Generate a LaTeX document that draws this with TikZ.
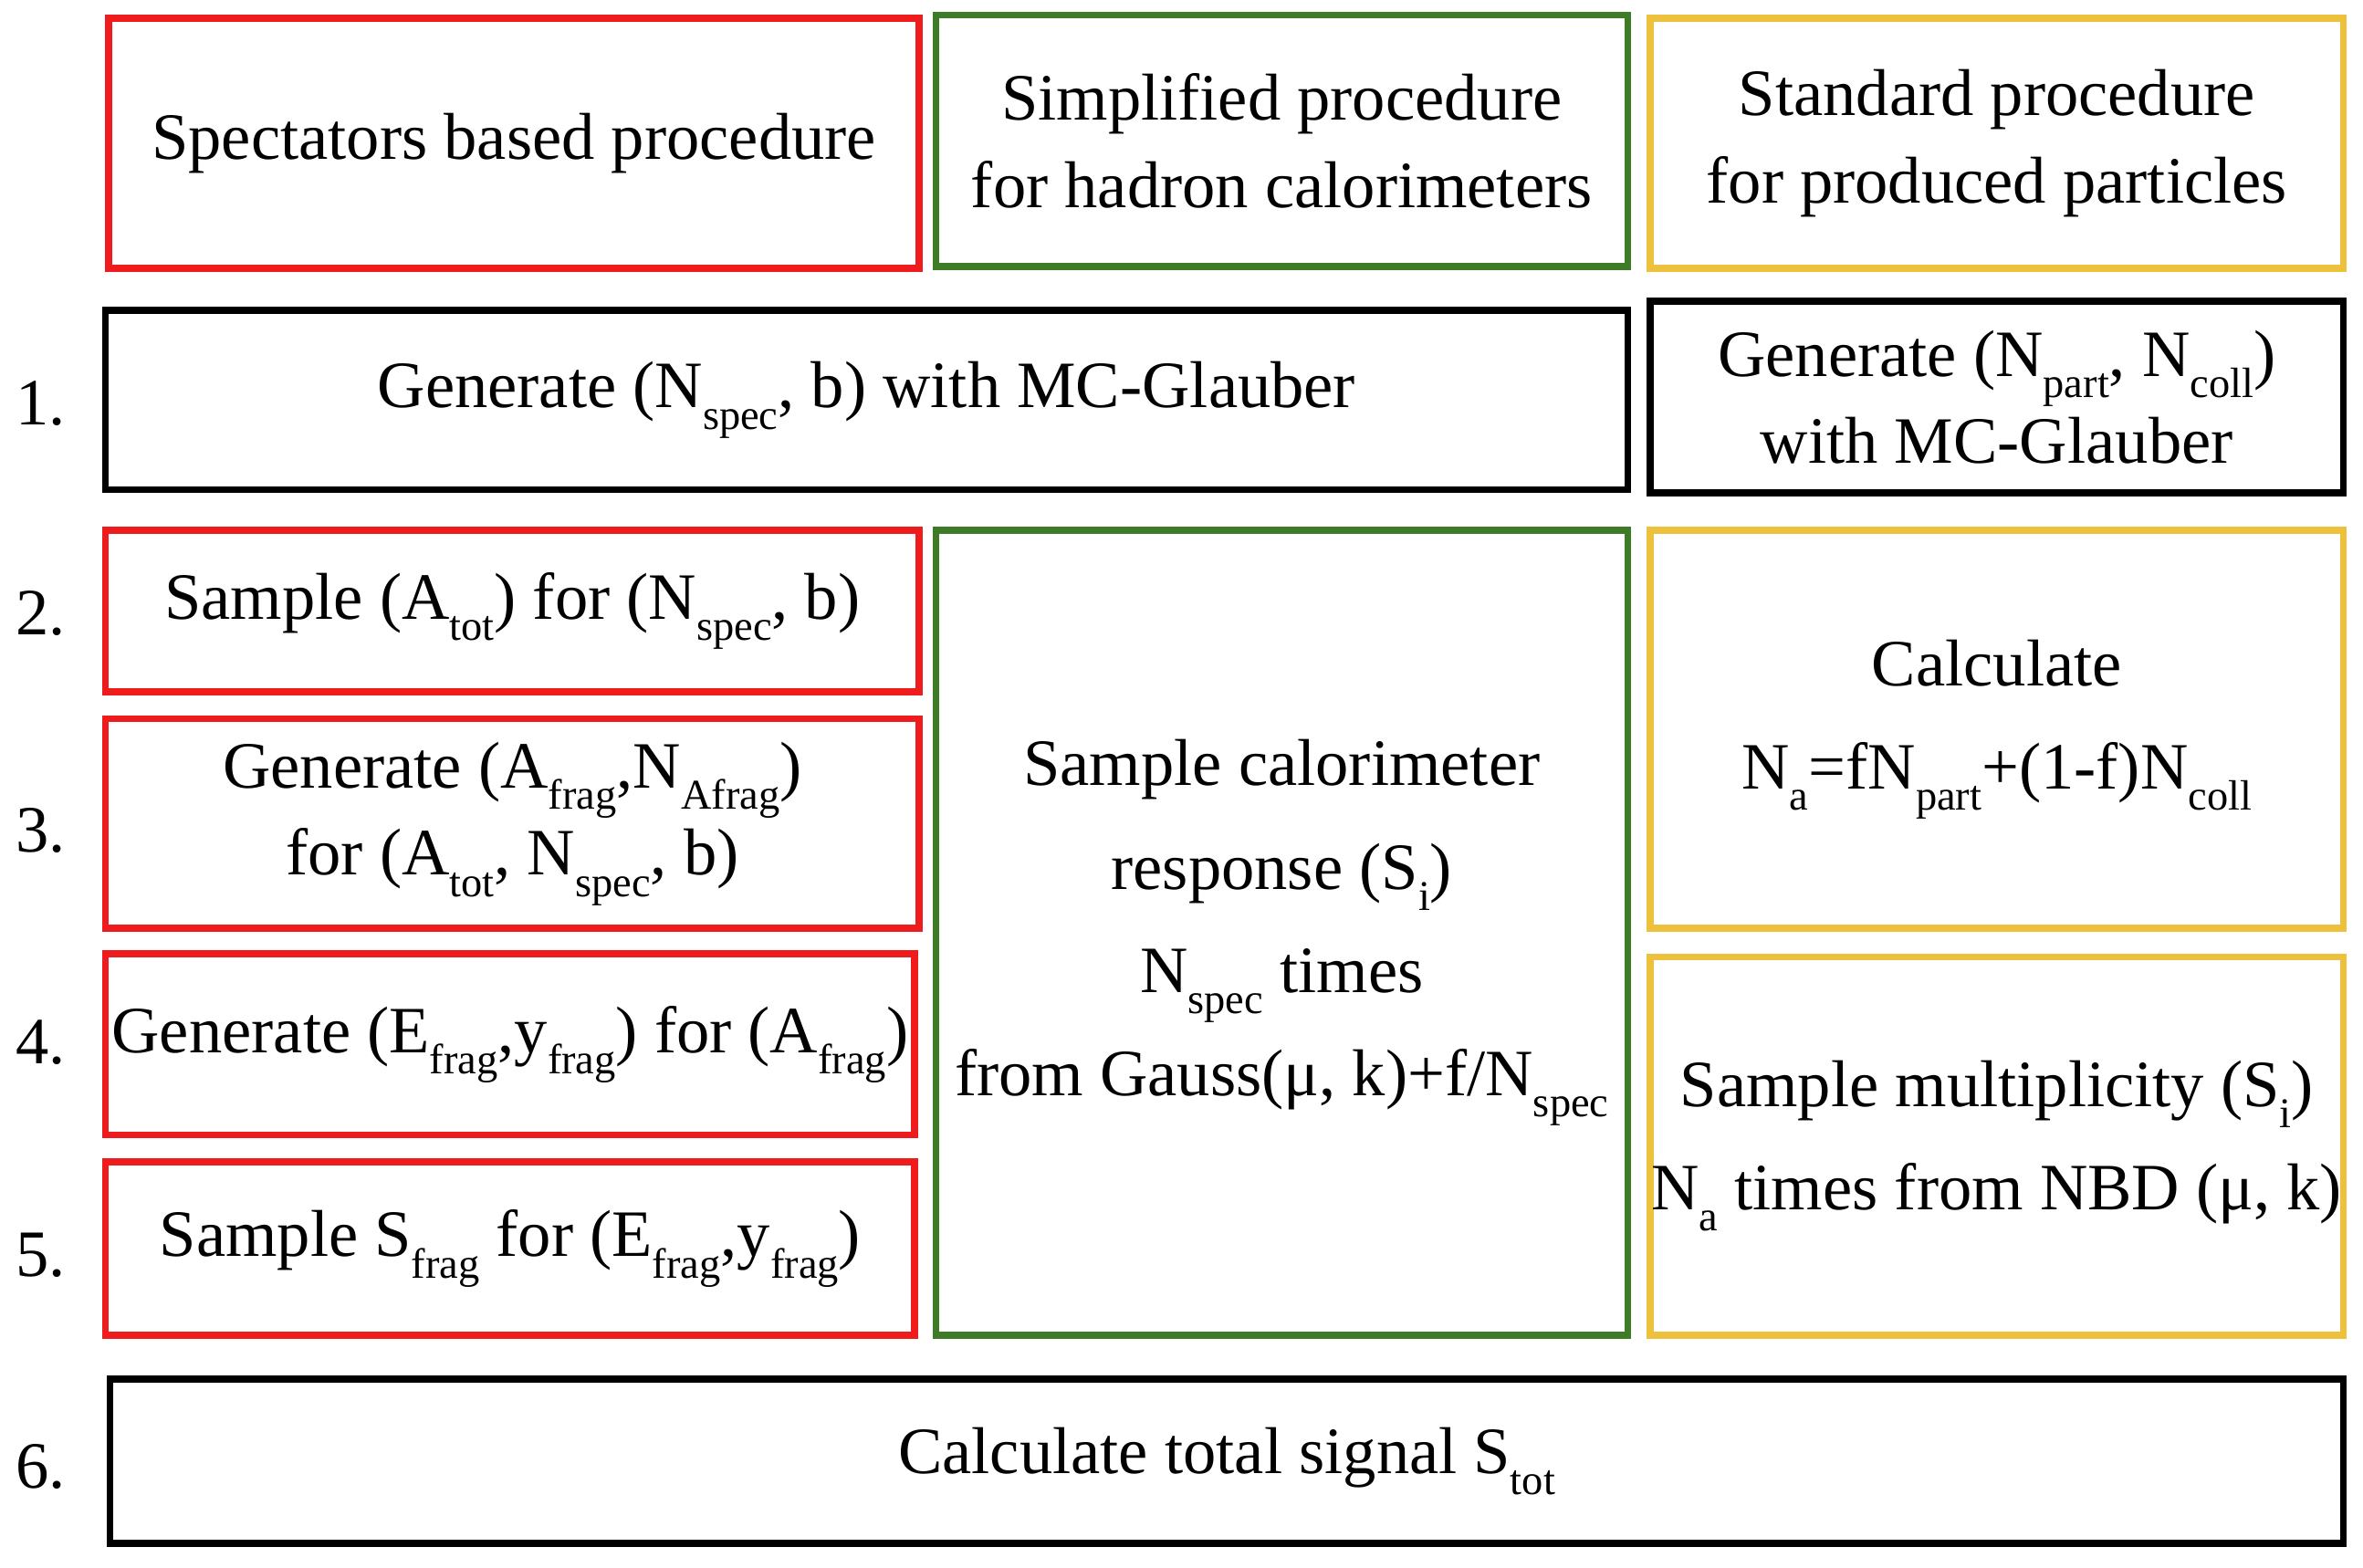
\documentclass[tikz,border=0pt]{standalone}
\usepackage{fontspec}
\setmainfont{Liberation Serif}
\usetikzlibrary{positioning}
\definecolor{procred}{HTML}{EE1C1C}
\definecolor{procgreen}{HTML}{3E7B27}
\definecolor{procyellow}{HTML}{EDC13B}
\newcommand{\lo}[1]{\raisebox{-0.7ex}{\footnotesize #1}}

\begin{document}
\begin{tikzpicture}[
    box/.style={draw, line width=1.3pt, align=center, inner sep=0pt,
        font=\fontsize{12.5}{16.5}\selectfont},
    redbox/.style={box, draw=procred},
    greenbox/.style={box, draw=procgreen},
    yellowbox/.style={box, draw=procyellow},
    stepnum/.style={font=\fontsize{12.5}{15}\selectfont}
]
\useasboundingbox (0,0) rectangle (15.68,-10.4);

% Headers
\node[redbox, minimum width=5.38cm, minimum height=1.66cm] (spec) at (3.41,-0.95) {Spectators based procedure};
\node[greenbox, minimum width=4.59cm, minimum height=1.67cm] (simp) at (8.505,-0.935) {Simplified procedure\\for hadron calorimeters};
\node[yellowbox, minimum width=4.6cm, minimum height=1.66cm] (stand) at (13.25,-0.95) {Standard procedure\\for produced particles};

% Step 1
\node[box, minimum width=10.1cm, minimum height=1.19cm] (glaub) at (5.75,-2.655) {Generate (N\lo{spec}, b) with MC-Glauber};
\node[box, minimum width=4.6cm, minimum height=1.27cm] (glaubs) at (13.25,-2.635) {Generate (N\lo{part}, N\lo{coll})\\with MC-Glauber};

% Spectators column
\node[redbox, minimum width=5.4cm, minimum height=1.07cm] (atot) at (3.4,-4.055) {Sample (A\lo{tot}) for (N\lo{spec}, b)};
\node[redbox, minimum width=5.4cm, minimum height=1.39cm] (afrag) at (3.4,-5.465) {Generate (A\lo{frag},N\lo{Afrag})\\for (A\lo{tot}, N\lo{spec}, b)};
\node[redbox, minimum width=5.37cm, minimum height=1.2cm] (efrag) at (3.385,-6.93) {Generate (E\lo{frag},y\lo{frag}) for (A\lo{frag})};
\node[redbox, minimum width=5.37cm, minimum height=1.15cm] (sfrag) at (3.385,-8.285) {Sample S\lo{frag} for (E\lo{frag},y\lo{frag})};

% Calorimeter column
\node[greenbox, minimum width=4.59cm, minimum height=5.34cm, font=\fontsize{12.5}{19.5}\selectfont] (calo) at (8.505,-6.19) {Sample calorimeter\\response (S\lo{i})\\N\lo{spec} times\\from Gauss(μ, k)+f/N\lo{spec}};

% Produced particles column
\node[yellowbox, minimum width=4.6cm, minimum height=2.64cm, font=\fontsize{12.5}{19.5}\selectfont] (calc) at (13.25,-4.84) {Calculate\\N\lo{a}=fN\lo{part}+(1-f)N\lo{coll}};
\node[yellowbox, minimum width=4.6cm, minimum height=2.51cm, font=\fontsize{12.5}{19.5}\selectfont] (mult) at (13.25,-7.605) {Sample multiplicity (S\lo{i})\\N\lo{a} times from NBD (μ, k)};

% Step 6
\node[box, minimum width=14.82cm, minimum height=1.09cm] (total) at (8.14,-9.695) {Calculate total signal S\lo{tot}};

% Step numbers
\node[stepnum] (n1) at (0.27,-2.68) {1.};
\node[stepnum] (n2) at (0.27,-4.07) {2.};
\node[stepnum] (n3) at (0.27,-5.51) {3.};
\node[stepnum] (n4) at (0.27,-6.92) {4.};
\node[stepnum] (n5) at (0.27,-8.33) {5.};
\node[stepnum] (n6) at (0.27,-9.73) {6.};
\end{tikzpicture}
\end{document}
